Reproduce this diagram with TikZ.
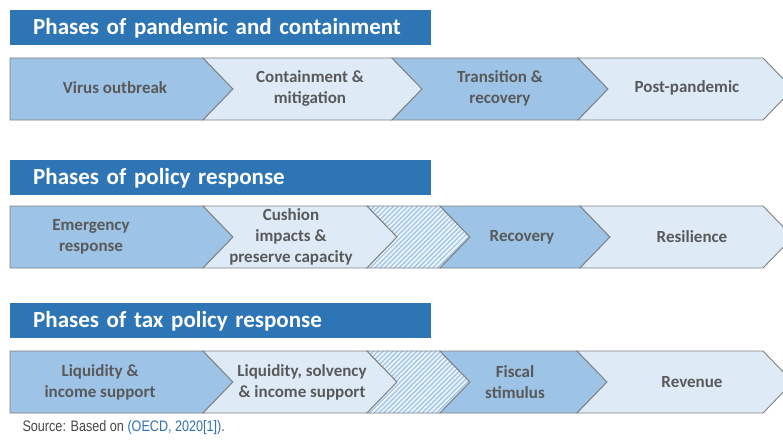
\documentclass[tikz,border=0pt]{standalone}
\usepackage{fontspec}
\setmainfont{Carlito}
\newfontfamily\srcfont[FakeStretch=0.83]{Liberation Sans}
\usetikzlibrary{patterns.meta,positioning}
\definecolor{titleblue}{HTML}{2E75B6}
\definecolor{darkcell}{HTML}{9DC3E6}
\definecolor{lightcell}{HTML}{DEEBF7}
\definecolor{edgegray}{HTML}{808080}
\definecolor{textgray}{HTML}{595959}
\definecolor{linkblue}{HTML}{2F6FB3}

% chevron: style, left x, notch depth, right x, top y
\newcommand{\chevron}[5]{%
  \draw[#1] (#2,#5) -- (#4,#5) -- (#4+30,#5+31) -- (#4,#5+62) -- (#2,#5+62) -- (#2+#3,#5+31) -- cycle;}

\begin{document}
\begin{tikzpicture}[x=1pt,y=-1pt, every node/.style={font=\bfseries\fontsize{17}{21}\selectfont, text=textgray, align=center}]
\tikzstyle{titlebar}=[fill=titleblue, anchor=north west, minimum height=35pt, text width=375pt, inner xsep=23pt, align=left, text=white, text depth=2pt, font=\bfseries\fontsize{23}{26}\selectfont]
\tikzstyle{dark}=[fill=darkcell, draw=edgegray, line width=0.9pt]
\tikzstyle{light}=[fill=lightcell, draw=edgegray, line width=0.9pt]
\tikzstyle{hatch}=[preaction={fill=lightcell!60!white}, pattern={Lines[angle=45,distance=3.4pt,line width=1.2pt]}, pattern color=darkcell, draw=edgegray, line width=0.9pt]
\useasboundingbox (0,0) rectangle (783,441);
\clip (0,0) rectangle (783,441);

% pandemic and containment
\node[titlebar] (t1) at (10,10) {Phases of pandemic and containment};
\chevron{dark}{10}{0}{203}{58}
\chevron{light}{203}{30}{392}{58}
\chevron{dark}{392}{30}{578}{58}
\chevron{light}{578}{30}{763}{58}
\node (virus) at (115,88) {Virus outbreak};
\node (contain) at (310,88) {Containment \&\\mitigation};
\node (trans) at (500,88) {Transition \&\\recovery};
\node (post) at (687,88) {Post-pandemic};

% policy response
\node[titlebar] (t2) at (10,160) {Phases of policy response};
\chevron{dark}{10}{0}{203}{206}
\chevron{light}{203}{30}{367}{206}
\chevron{hatch}{367}{30}{440}{206}
\chevron{dark}{440}{30}{580}{206}
\chevron{light}{580}{30}{763}{206}
\node (emerg) at (91,237) {Emergency\\response};
\node (cushion) at (291,237) {Cushion\\impacts \&\\preserve capacity};
\node (recov) at (522,237) {Recovery};
\node (resil) at (692,237) {Resilience};

% tax policy response
\node[titlebar] (t3) at (10,303) {Phases of tax policy response};
\chevron{dark}{10}{0}{203}{351}
\chevron{light}{203}{30}{367}{351}
\chevron{hatch}{367}{30}{440}{351}
\chevron{dark}{440}{30}{577}{351}
\chevron{light}{577}{30}{763}{351}
\node (liq) at (100,382) {Liquidity \&\\income support};
\node (solv) at (302,382) {Liquidity, solvency\\\& income support};
\node (fiscal) at (515,382) {Fiscal\\stimulus};
\node (rev) at (692,382) {Revenue};

\node[anchor=west, font=\srcfont\fontsize{15.2}{17}\selectfont, text=textgray!80!black] (src) at (19,428) {Source: Based on \textcolor{linkblue}{(OECD, 2020[1])}.};
\end{tikzpicture}
\end{document}
